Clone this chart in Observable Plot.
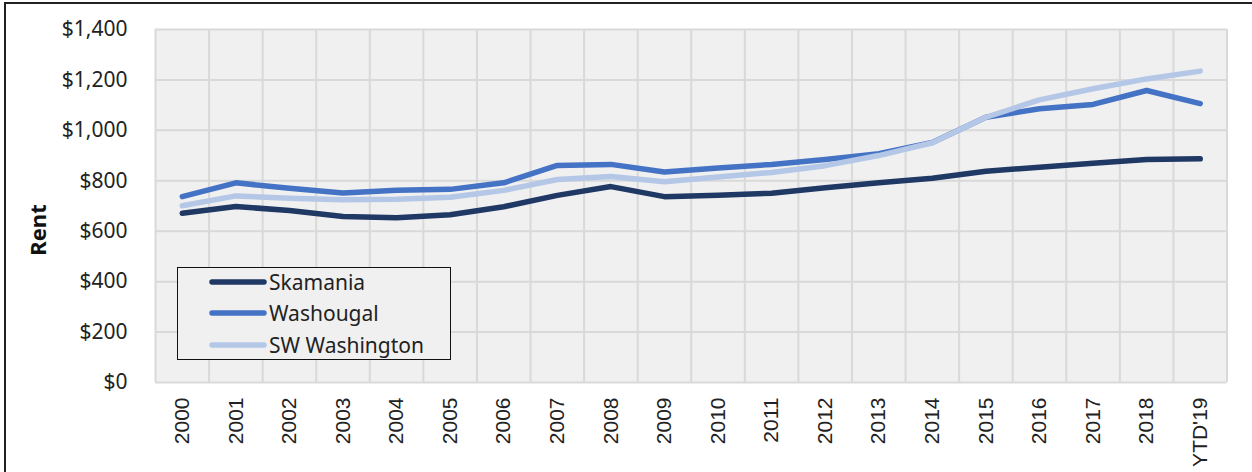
<!DOCTYPE html>
<html>
<head>
<meta charset="utf-8">
<script src="https://cdn.jsdelivr.net/npm/d3@7"></script>
<script src="https://cdn.jsdelivr.net/npm/@observablehq/plot@0.6"></script>
<style>
  html, body { margin: 0; padding: 0; background: #fff; }
  #wrap { position: relative; width: 1252px; height: 472px; overflow: hidden; }
  #frameLines { position: absolute; left: 4px; top: 2px; right: 0; bottom: 0;
    border-left: 2px solid #222; border-top: 2px solid #222; pointer-events: none; }
  #ytitle { position: absolute; left: 37px; top: 230px; transform: translate(-50%, -50%) rotate(-90deg);
    font-family: "Noto Sans", sans-serif; font-weight: bold; font-size: 22px; color: #111; white-space: nowrap; }
  #legend { position: absolute; left: 177px; top: 267px; width: 272px; height: 91px;
    border: 1.6px solid #111; background: #f0f0f0; font-family: "Noto Sans", sans-serif; font-size: 21px; color: #222; }
  .lrow { position: absolute; left: 0; display: flex; align-items: center; height: 28px; }
  .lrow svg { margin-left: 31px; margin-right: 2px; }
</style>
</head>
<body>
<div id="wrap">
  <div id="chart"></div>
  <div id="frameLines"></div>
  <div id="ytitle">Rent</div>
  <div id="legend"></div>
</div>
<script>
const years = ["2000","2001","2002","2003","2004","2005","2006","2007","2008","2009","2010","2011","2012","2013","2014","2015","2016","2017","2018","YTD'19"];
const seriesNames = ["Skamania", "Washougal", "SW Washington"];
const seriesColors = ["#1f3864", "#4472c4", "#b4c7e7"];
const skamania = [671, 698, 682, 658, 653, 665, 697, 742, 777, 737, 743, 751, 772, 792, 810, 838, 854, 870, 884, 887];
const washougal = [737, 792, 770, 752, 762, 766, 792, 861, 865, 835, 851, 865, 884, 907, 952, 1052, 1086, 1103, 1158, 1106];
const swWashington = [701, 740, 731, 725, 727, 735, 762, 805, 817, 796, 815, 833, 860, 900, 951, 1052, 1121, 1165, 1204, 1235];
const yTicks = [0, 200, 400, 600, 800, 1000, 1200, 1400];

const seriesValues = [skamania, washougal, swWashington];
const data = [];
seriesNames.forEach((name, s) => {
  seriesValues[s].forEach((v, i) => data.push({series: name, i, year: years[i], value: v}));
});
const n = years.length;
const boundaries = d3.range(n + 1).map(i => i - 0.5);

const chart = Plot.plot({
  width: 1252,
  height: 472,
  marginLeft: 155,
  marginRight: 25.5,
  marginTop: 29,
  marginBottom: 90,
  style: {fontFamily: "Noto Sans, sans-serif", fontSize: "20px", color: "#222", background: "transparent"},
  x: {type: "linear", domain: [-0.5, n - 0.5]},
  y: {domain: [0, 1400]},
  color: {domain: seriesNames, range: seriesColors},
  marks: [
    Plot.frame({fill: "#f0f0f0", stroke: null}),
    Plot.gridY(yTicks, {stroke: "#d9d9d9", strokeWidth: 2, strokeOpacity: 1}),
    Plot.ruleX(boundaries, {stroke: "#d9d9d9", strokeWidth: 2}),
    Plot.axisY(yTicks, {tickSize: 0, tickPadding: 28, label: null,
      tickFormat: d => "$" + d3.format(",")(d), fontSize: 21, fontFamily: "Noto Sans, sans-serif", fill: "#222"}),
    Plot.axisX(d3.range(n), {tickSize: 0, tickPadding: 15, tickRotate: -90, label: null,
      tickFormat: i => years[i], fontSize: 21, fontFamily: "Liberation Sans, Arial, sans-serif", fill: "#222"}),
    Plot.line(data, {x: "i", y: "value", z: "series", stroke: "series", strokeWidth: 5.5,
      strokeLinecap: "round", strokeLinejoin: "round"})
  ]
});
document.getElementById("chart").appendChild(chart);

const legend = document.getElementById("legend");
const rowTops = [0, 31, 63];
seriesNames.forEach((name, k) => {
  const row = document.createElement("div");
  row.className = "lrow";
  row.style.top = rowTops[k] + "px";
  row.innerHTML = `<svg width="58" height="10"><line x1="3" y1="5" x2="55" y2="5" stroke="${seriesColors[k]}" stroke-width="5.5" stroke-linecap="round"/></svg><span>${name}</span>`;
  legend.appendChild(row);
});
</script>
</body>
</html>
